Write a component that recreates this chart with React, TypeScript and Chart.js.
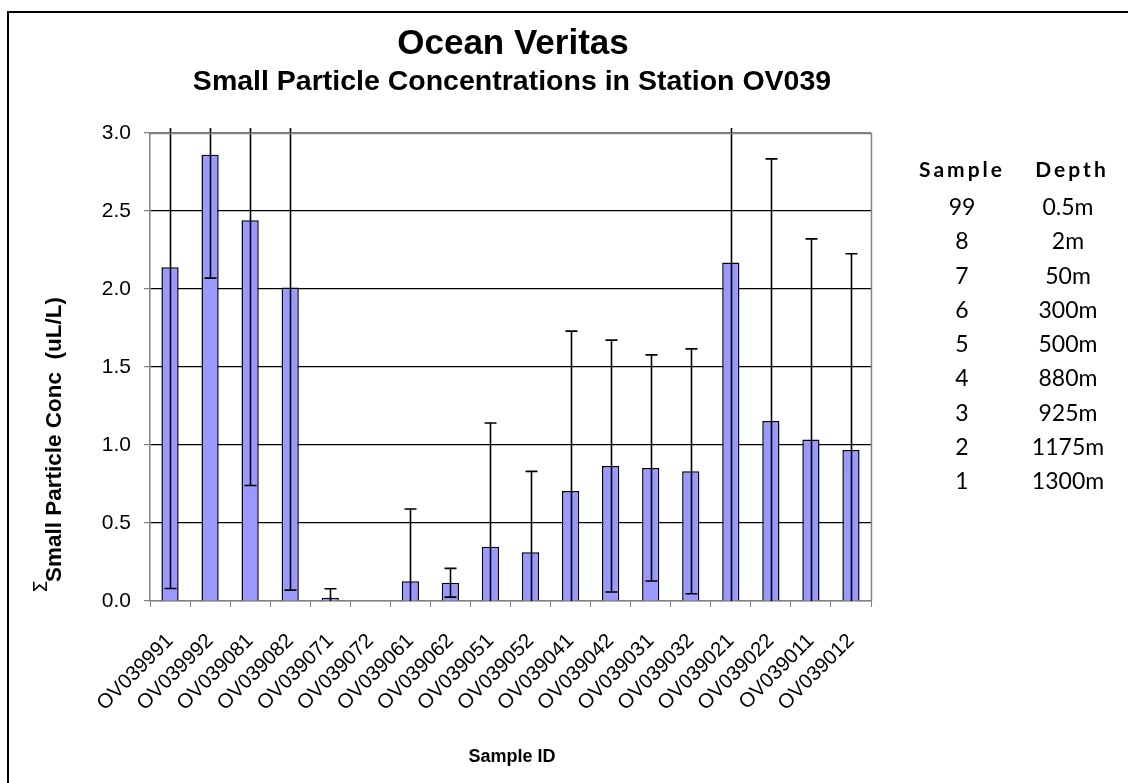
import React, { useEffect, useRef } from "react";
import { Chart, registerables } from "chart.js";

Chart.register(...registerables);

const mainTitle = "Ocean Veritas";
const subTitle = "Small Particle Concentrations in Station OV039";
const xAxisTitle = "Sample ID";
const yAxisTitle = "Small Particle Conc  (uL/L)";
const yAxisSymbol = "Σ";

const categories = [
  "OV039991", "OV039992", "OV039081", "OV039082", "OV039071", "OV039072",
  "OV039061", "OV039062", "OV039051", "OV039052", "OV039041", "OV039042",
  "OV039031", "OV039032", "OV039021", "OV039022", "OV039011", "OV039012",
];

const concentrations = [
  2.14, 2.86, 2.44, 2.01, 0.021, 0.003,
  0.126, 0.117, 0.348, 0.312, 0.705, 0.865,
  0.853, 0.831, 2.17, 1.154, 1.036, 0.968,
];

const errors = [
  2.06, 0.79, 1.70, 1.94, 0.058, 0.0,
  0.464, 0.092, 0.793, 0.519, 1.025, 0.807,
  0.725, 0.785, 2.25, 1.68, 1.285, 1.258,
];

const yTicks = [0, 0.5, 1.0, 1.5, 2.0, 2.5, 3.0];

const legendHeaders = ["Sample", "Depth"];
const sampleNumbers = ["99", "8", "7", "6", "5", "4", "3", "2", "1"];
const sampleDepths = ["0.5m", "2m", "50m", "300m", "500m", "880m", "925m", "1175m", "1300m"];

const errorBarPlugin = {
  id: "errorBars",
  afterDatasetsDraw(chart: any) {
    const ctx = chart.ctx;
    const meta = chart.getDatasetMeta(0);
    const yScale = chart.scales.y;
    const { top, bottom } = chart.chartArea;
    const clipTop = top - 5;
    ctx.save();
    ctx.strokeStyle = "#000";
    ctx.lineWidth = 1.6;
    meta.data.forEach((bar: any, i: number) => {
      const v = concentrations[i];
      const e = errors[i];
      if (!e) return;
      const hiVal = v + e;
      const loVal = v - e;
      let yHi = yScale.getPixelForValue(hiVal);
      let yLo = yScale.getPixelForValue(loVal);
      const hiCap = yHi >= top - 0.5;
      const loCap = yLo <= bottom + 0.5;
      yHi = Math.max(yHi, clipTop);
      yLo = Math.min(yLo, bottom);
      const x = Math.round(bar.x) + 0.5;
      ctx.beginPath();
      ctx.moveTo(x, yHi);
      ctx.lineTo(x, yLo);
      if (hiCap) {
        ctx.moveTo(x - 6, yHi);
        ctx.lineTo(x + 6, yHi);
      }
      if (loCap) {
        ctx.moveTo(x - 6, yLo);
        ctx.lineTo(x + 6, yLo);
      }
      ctx.stroke();
    });
    ctx.restore();
  },
};

const decorPlugin = {
  id: "decor",
  beforeDraw(chart: any) {
    const ctx = chart.ctx;
    ctx.save();
    ctx.fillStyle = "#fff";
    ctx.fillRect(0, 0, chart.width, chart.height);
    ctx.restore();
  },
  afterDraw(chart: any) {
    const ctx = chart.ctx;
    const { left, right, top, bottom } = chart.chartArea;
    ctx.save();
    // outer frame (top + left visible)
    ctx.strokeStyle = "#000";
    ctx.lineWidth = 2;
    ctx.beginPath();
    ctx.moveTo(8, chart.height + 2);
    ctx.lineTo(8, 12);
    ctx.lineTo(chart.width + 2, 12);
    ctx.stroke();

    // plot area border (top, right)
    ctx.strokeStyle = "#808080";
    ctx.lineWidth = 1.5;
    ctx.beginPath();
    ctx.moveTo(left, top + 0.5);
    ctx.lineTo(right + 0.5, top + 0.5);
    ctx.lineTo(right + 0.5, bottom);
    ctx.stroke();

    // titles
    ctx.fillStyle = "#000";
    ctx.textAlign = "center";
    ctx.textBaseline = "middle";
    ctx.font = 'bold 35px "Liberation Sans", Arial, sans-serif';
    ctx.fillText(mainTitle, 513, 44);
    ctx.font = 'bold 28.5px "Liberation Sans", Arial, sans-serif';
    ctx.fillText(subTitle, 512, 82);

    // x-axis title
    ctx.font = 'bold 18px "Liberation Sans", Arial, sans-serif';
    ctx.fillText(xAxisTitle, 512, 757);

    // y-axis title
    ctx.save();
    ctx.translate(61, 582);
    ctx.rotate(-Math.PI / 2);
    ctx.textAlign = "left";
    ctx.textBaseline = "alphabetic";
    ctx.font = 'bold 22.5px "Liberation Sans", Arial, sans-serif';
    ctx.fillText(yAxisTitle, 0, 0);
    ctx.font = '20px "DejaVu Sans", sans-serif';
    ctx.fillText(yAxisSymbol, -11, -14);
    ctx.restore();

    // legend table
    const colSample = 962;
    const colDepth = 1068;
    ctx.textAlign = "center";
    ctx.textBaseline = "middle";
    ctx.font = 'bold 21px Lato, "Open Sans", sans-serif';
    (ctx as any).letterSpacing = "3px";
    ctx.fillText(legendHeaders[0], colSample, 170);
    ctx.fillText(legendHeaders[1], colDepth + 4, 170);
    (ctx as any).letterSpacing = "0px";
    ctx.font = '23px Lato, "Open Sans", sans-serif';
    sampleNumbers.forEach((s, i) => {
      const y = 207.5 + i * 34.3;
      ctx.fillText(s, colSample, y);
      ctx.fillText(sampleDepths[i], colDepth, y);
    });
    ctx.restore();
  },
};

export default function App() {
  const canvasRef = useRef<HTMLCanvasElement | null>(null);

  useEffect(() => {
    if (!canvasRef.current) return;
    const chart = new Chart(canvasRef.current, {
      type: "bar",
      data: {
        labels: categories,
        datasets: [
          {
            data: concentrations,
            backgroundColor: "#9999FF",
            borderColor: "#000",
            borderWidth: 1.5,
            barPercentage: 0.43,
            categoryPercentage: 1.0,
          },
        ],
      },
      options: {
        responsive: false,
        animation: false,
        devicePixelRatio: 1,
        layout: { padding: { left: 0, right: 257, top: 133, bottom: 0 } },
        plugins: {
          legend: { display: false },
          title: { display: false },
          tooltip: { enabled: false },
        },
        scales: {
          x: {
            offset: true,
            grid: {
              display: true,
              drawOnChartArea: false,
              drawTicks: true,
              tickLength: 6,
              tickColor: "#808080",
              offset: true,
            },
            border: { display: true, color: "#808080", width: 1.5 },
            ticks: {
              autoSkip: false,
              minRotation: 45,
              maxRotation: 45,
              padding: 22,
              color: "#000",
              font: { family: '"Liberation Sans", Arial, sans-serif', size: 20.5 },
            },
            afterFit(scale: any) {
              scale.height = 182;
            },
          },
          y: {
            min: 0,
            max: 3,
            afterBuildTicks(scale: any) {
              scale.ticks = yTicks.map((v) => ({ value: v }));
            },
            grid: {
              color: (c: any) => (c.tick && (c.tick.value === 0 || c.tick.value === 3) ? "#808080" : "#000"),
              lineWidth: 1.2,
              tickLength: 6,
              tickColor: "#808080",
            },
            border: { display: true, color: "#808080", width: 1.5 },
            ticks: {
              padding: 13,
              color: "#000",
              font: { family: '"Liberation Sans", Arial, sans-serif', size: 21 },
              callback: (v: any) => Number(v).toFixed(1),
            },
            afterFit(scale: any) {
              scale.width = 150;
            },
          },
        },
      },
      plugins: [decorPlugin, errorBarPlugin],
    });
    return () => chart.destroy();
  }, []);

  return (
    <div style={{ position: "fixed", left: 0, top: 0, width: 1128, height: 783, background: "#fff" }}>
      <canvas ref={canvasRef} width={1128} height={783} style={{ display: "block" }} />
    </div>
  );
}
